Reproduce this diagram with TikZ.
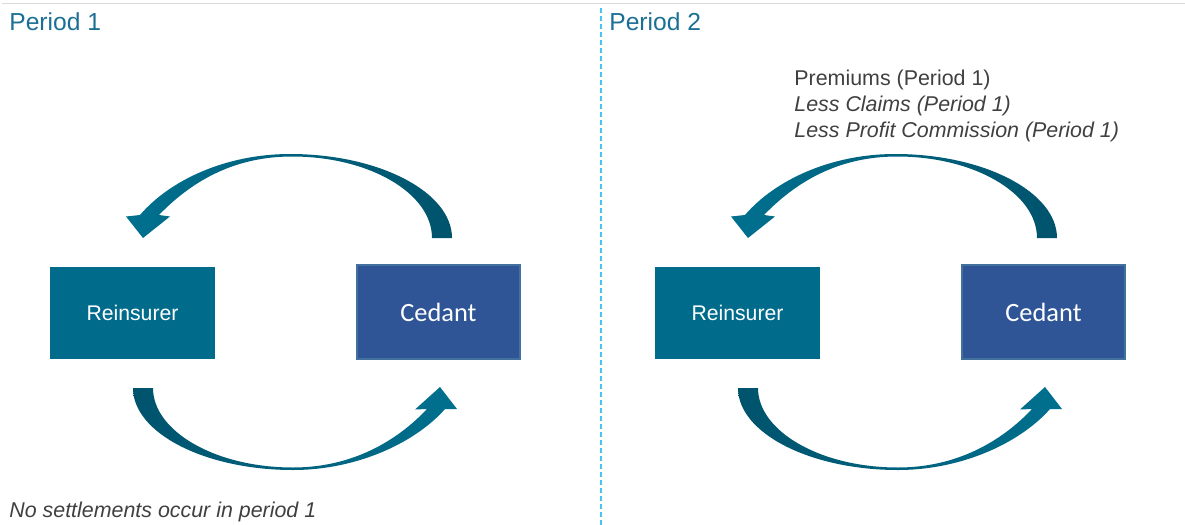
\documentclass[tikz,border=0pt]{standalone}
\usepackage{fontspec}
\setmainfont{Liberation Sans}
\newfontfamily\cedantfont{Carlito}
\usetikzlibrary{positioning}

\definecolor{titleblue}{HTML}{1B6F94}
\definecolor{reinsblue}{HTML}{016B8C}
\definecolor{cedantblue}{HTML}{2F5597}
\definecolor{cedantedge}{HTML}{41719C}
\definecolor{arrowlight}{HTML}{00708F}
\definecolor{arrowdark}{HTML}{00536C}
\definecolor{notegray}{HTML}{404040}
\definecolor{splitcyan}{HTML}{48C4EE}
\definecolor{rulegray}{HTML}{D9D9D9}

\begin{document}
\begin{tikzpicture}[x=0.5pt, y=-0.5pt,
    title/.style = {anchor=base west, inner sep=0pt, text=titleblue, font=\fontsize{12.3}{14}\selectfont},
    note/.style = {anchor=base west, inner sep=0pt, text=notegray, font=\fontsize{10.7}{13}\selectfont},
    party/.style = {minimum width=82.5pt, minimum height=46pt, inner sep=0pt, text=white},
    reins/.style = {party, fill=reinsblue, font=\fontsize{10.6}{12}\selectfont},
    cedant/.style = {party, fill=cedantblue, draw=cedantedge, line width=1pt,
        minimum width=81.5pt, minimum height=47pt, font=\cedantfont\fontsize{13.2}{15}\selectfont},
    flow/.style = {line width=0pt}]
    \useasboundingbox (0,0) rectangle (1185,525);

    % rule on top and the split between the two periods
    \draw[rulegray, line width=0.8pt] (2,3.5) -- (1185,3.5);
    \draw[splitcyan, line width=0.75pt, dash pattern=on 2.5pt off 1.5pt] (601,8) -- (601,525);

    \node[title] (period1) at (9,30) {Period 1};
    \node[title] (period2) at (609,30) {Period 2};

    \foreach \p/\dx in {1/0pt, 2/302.5pt} {
        \begin{scope}[xshift=\dx]
            \node[reins] (reins\p) at (132.5,312.5) {Reinsurer};
            \node[cedant] (cedant\p) at (438.5,312) {Cedant};

            % upper curved arrow, cedant -> reinsurer
            \shade[flow, left color=arrowlight, right color=arrowdark]
                (452,238) .. controls (452,192) and (379,154) .. (290,154)
                .. controls (226,154) and (170,180) .. (140,215)
                -- (126,216.5) -- (143,238) -- (170,216.5) -- (159,215)
                .. controls (190,183) and (232,156.5) .. (292,156.5)
                .. controls (369,156.5) and (432,193) .. (432,238) -- cycle;

            % lower curved arrow, reinsurer -> cedant
            \shade[flow, left color=arrowdark, right color=arrowlight]
                (133,388) .. controls (133,433) and (205,470) .. (293,470)
                .. controls (358,470) and (416,442) .. (445,409)
                -- (457,409) -- (440,387) -- (415,409.5) -- (427,409)
                .. controls (397,441) and (352,467.5) .. (293,467.5)
                .. controls (215,467.5) and (153,431) .. (153,388) -- cycle;
        \end{scope}
    }

    \node[note] (premiums) at (794,85) {Premiums (Period 1)};
    \node[note] (claims) at ([yshift=-13pt]premiums.base west) {\itshape Less Claims (Period 1)};
    \node[note] (commission) at ([yshift=-13pt]claims.base west) {\itshape Less Profit Commission (Period 1)};

    \node[note] (nosettle) at (9,517) {\itshape No settlements occur in period 1};
\end{tikzpicture}
\end{document}
